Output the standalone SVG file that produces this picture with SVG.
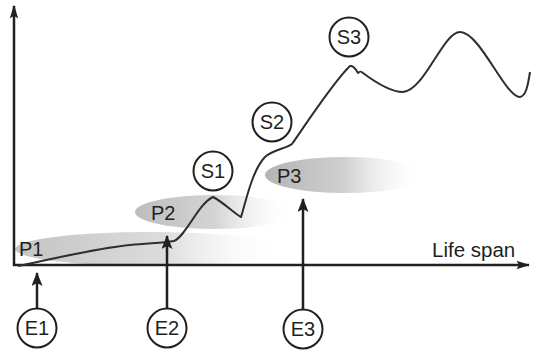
<svg xmlns="http://www.w3.org/2000/svg" width="534" height="353" viewBox="0 0 534 353">
<defs>
<linearGradient id="g1" x1="0" y1="0" x2="1" y2="0">
<stop offset="0" stop-color="#c4c4c4"/>
<stop offset="0.55" stop-color="#dcdcdc"/>
<stop offset="1" stop-color="#ffffff" stop-opacity="0"/>
</linearGradient>
<linearGradient id="g2" x1="0" y1="0" x2="1" y2="0">
<stop offset="0" stop-color="#bdbdbd"/>
<stop offset="0.5" stop-color="#d4d4d4"/>
<stop offset="1" stop-color="#ffffff" stop-opacity="0"/>
</linearGradient>
<linearGradient id="g3" x1="0" y1="0" x2="1" y2="0">
<stop offset="0" stop-color="#b4b4b4"/>
<stop offset="0.5" stop-color="#d0d0d0"/>
<stop offset="1" stop-color="#ffffff" stop-opacity="0"/>
</linearGradient>
<marker id="ah" markerUnits="userSpaceOnUse" markerWidth="14" markerHeight="20" refX="18" refY="6" viewBox="0 0 20 12" orient="auto">
<path d="M0,0 L20,6 L0,12 L4,6 Z" fill="#231f20"/>
</marker>
<marker id="ahs" markerUnits="userSpaceOnUse" markerWidth="14" markerHeight="11" refX="13" refY="5.5" viewBox="0 0 14 11" orient="auto">
<path d="M0,0 L14,5.5 L0,11 L3,5.5 Z" fill="#231f20"/>
</marker>
</defs>
<style>
.lbl{font-family:"Liberation Sans",Arial,sans-serif;font-size:20px;fill:#231f20}
.node circle{fill:#ffffff;stroke:#231f20;stroke-width:2}
.axis{stroke:#231f20;stroke-width:2.5;fill:none}
.ev{stroke:#231f20;stroke-width:2.5;fill:none}
.curve{stroke:#2e2e2e;stroke-width:2;fill:none;stroke-linejoin:round}
</style>
<rect width="534" height="353" fill="#ffffff"/>
<g id="phases">
<ellipse cx="150" cy="249" rx="135" ry="17" fill="url(#g1)"/>
<ellipse cx="215" cy="212" rx="80" ry="17" fill="url(#g2)"/>
<ellipse cx="345" cy="175" rx="80" ry="18" fill="url(#g3)"/>
</g>
<g id="connectors">
<line class="axis" x1="14" y1="266" x2="14" y2="6" marker-end="url(#ah)"/>
<line class="axis" x1="13" y1="265" x2="529" y2="265" marker-end="url(#ah)"/>
<path class="curve" d="M18 266 C40 262,90 249,130 245 C150 243,163 243,174 241 C186 236,198 204,213 197 C223 202,235 214,241 217 C245 205,252 170,265 157 C272 150,285 149,292 144 C310 118,335 80,350 66 C354 65,356 70,358 73 C360 71,361 71,363 73 C375 82,390 92,403 92 C425 90,443 32,460 32 C480 32,505 97,520 97 C526 96,528 85,530 72"/>
<line class="ev" x1="37" y1="309" x2="37" y2="273" marker-end="url(#ahs)"/>
<line class="ev" x1="167" y1="309" x2="167" y2="236" marker-end="url(#ahs)"/>
<line class="ev" x1="303" y1="310" x2="303" y2="199" marker-end="url(#ahs)"/>
</g>
<g id="P1"><text class="lbl" x="19" y="256">P1</text></g>
<g id="P2"><text class="lbl" x="151" y="220">P2</text></g>
<g id="P3"><text class="lbl" x="277" y="183">P3</text></g>
<g id="axis-label"><text class="lbl" x="432" y="257" style="font-size:20.5px">Life span</text></g>
<g id="S1" class="node"><circle cx="213" cy="171" r="19.5"/><text class="lbl" x="213" y="178" text-anchor="middle">S1</text></g>
<g id="S2" class="node"><circle cx="272" cy="122" r="19.5"/><text class="lbl" x="272" y="129" text-anchor="middle">S2</text></g>
<g id="S3" class="node"><circle cx="349" cy="37" r="19.5"/><text class="lbl" x="349" y="44" text-anchor="middle">S3</text></g>
<g id="E1" class="node"><circle cx="37" cy="328" r="19.5"/><text class="lbl" x="37" y="335" text-anchor="middle">E1</text></g>
<g id="E2" class="node"><circle cx="167" cy="328" r="19.5"/><text class="lbl" x="167" y="335" text-anchor="middle">E2</text></g>
<g id="E3" class="node"><circle cx="303" cy="329" r="19.5"/><text class="lbl" x="303" y="336" text-anchor="middle">E3</text></g>
</svg>
